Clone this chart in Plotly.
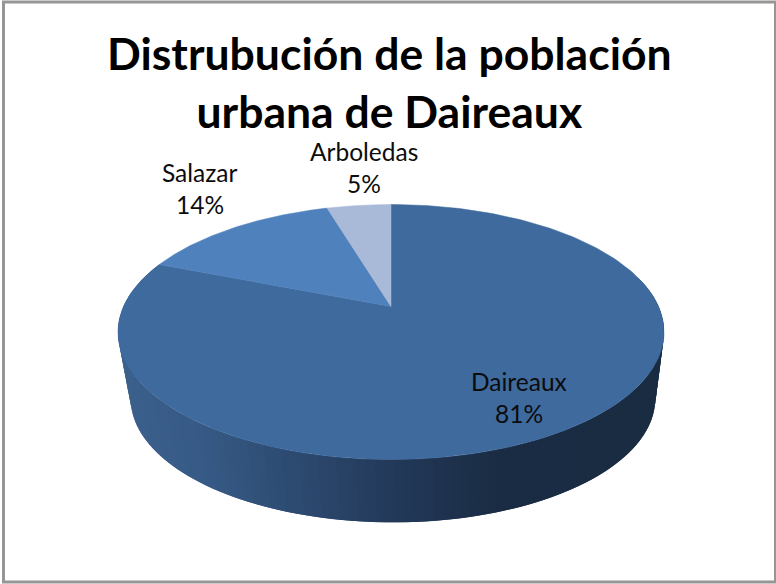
import numpy as np
import plotly.graph_objects as go

# Data
categories = ["Daireaux", "Salazar", "Arboledas"]
values = [81.0, 14.4, 4.6]
slice_colors = ["#3E6A9E", "#4F81BD", "#A9B9D8"]
title_lines = ["Distrubución de la población", "urbana de Daireaux"]

W, H = 776, 584
TOP = dict(cx=391, cy=306.5, a=267.5, b=122.4, p=0.2)
BOT = dict(cx=393, cy=374, a=257.0, b=118.7, p=0.2)


def proj(theta, g=TOP):
    u, v = np.sin(theta), np.cos(theta)
    d = 1 + g["p"] * v
    return g["cx"] + g["a"] * u / d, g["cy"] - g["b"] * v / d


fracs = np.array(values) / sum(values)
edges = np.concatenate([[0], np.cumsum(fracs)]) * 2 * np.pi

fig = go.Figure()

# side wall: overlapping strips of the first slice, shaded along the x position
stops_x = [118, 200, 270, 400, 500, 664]
stops_c = np.array([[60, 96, 140], [54, 90, 133], [47, 78, 117], [34, 56, 88], [26, 44, 67], [26, 44, 66]])
ts = np.linspace(np.pi * 0.42, edges[1], 130)
# painted from the right end to the left end; each strip runs past the next one
for k in range(len(ts) - 2):
    tt = np.linspace(ts[k], ts[k + 2], 5)
    xt, yt = proj(tt)
    xb, yb = proj(tt[::-1], g=BOT)
    mx = xt[:3].mean()
    c = [int(round(np.interp(mx, stops_x, stops_c[:, i]))) for i in range(3)]
    col = f"rgb({c[0]},{c[1]},{c[2]})"
    fig.add_trace(go.Scatter(x=np.r_[xt, xb], y=np.r_[yt, yb], mode="lines", fill="toself",
                             fillcolor=col, line=dict(width=0),
                             hoverinfo="skip", showlegend=False))

# top face
for i, name in enumerate(categories):
    tt = np.linspace(edges[i], edges[i + 1], 240)
    xs, ys = proj(tt)
    fig.add_trace(go.Scatter(x=np.r_[TOP["cx"], xs, TOP["cx"]], y=np.r_[TOP["cy"], ys, TOP["cy"]], mode="lines",
                             fill="toself", fillcolor=slice_colors[i], line=dict(color=slice_colors[i], width=0.5),
                             name=name, hoverinfo="name", showlegend=False))

# data labels
label_pos = [(519, 381, 413), (200, 172, 204), (364, 151, 183)]
ann = []
for (name, v, (lx, y1, y2)) in zip(categories, values, label_pos):
    for txt, y in ((name, y1), (f"{round(v)}%", y2)):
        ann.append(dict(x=lx, y=y, xref="x", yref="y", text=txt, showarrow=False,
                        font=dict(family="Lato", size=24.5, color="#0c0c0c")))

# frame
frame = dict(type="rect", xref="x", yref="y", x0=3.5, x1=775.5, y0=2, y1=582,
             line=dict(color="#969696", width=3), fillcolor="rgba(0,0,0,0)", layer="below")

fig.update_layout(
    width=W, height=H, margin=dict(l=0, r=0, t=0, b=0),
    paper_bgcolor="white", plot_bgcolor="white",
    title=dict(text="<br>".join(title_lines), x=0.5017, xanchor="center", y=0.88, yanchor="top",
               font=dict(family="Lato", size=44.5, color="black", weight="bold")),
    xaxis=dict(range=[0, W], visible=False, fixedrange=True),
    yaxis=dict(range=[H, 0], visible=False, fixedrange=True),
    annotations=ann, shapes=[frame], showlegend=False,
)
fig.write_html("out.html", post_script="document.body.style.margin='0';", config={"displayModeBar": False})
